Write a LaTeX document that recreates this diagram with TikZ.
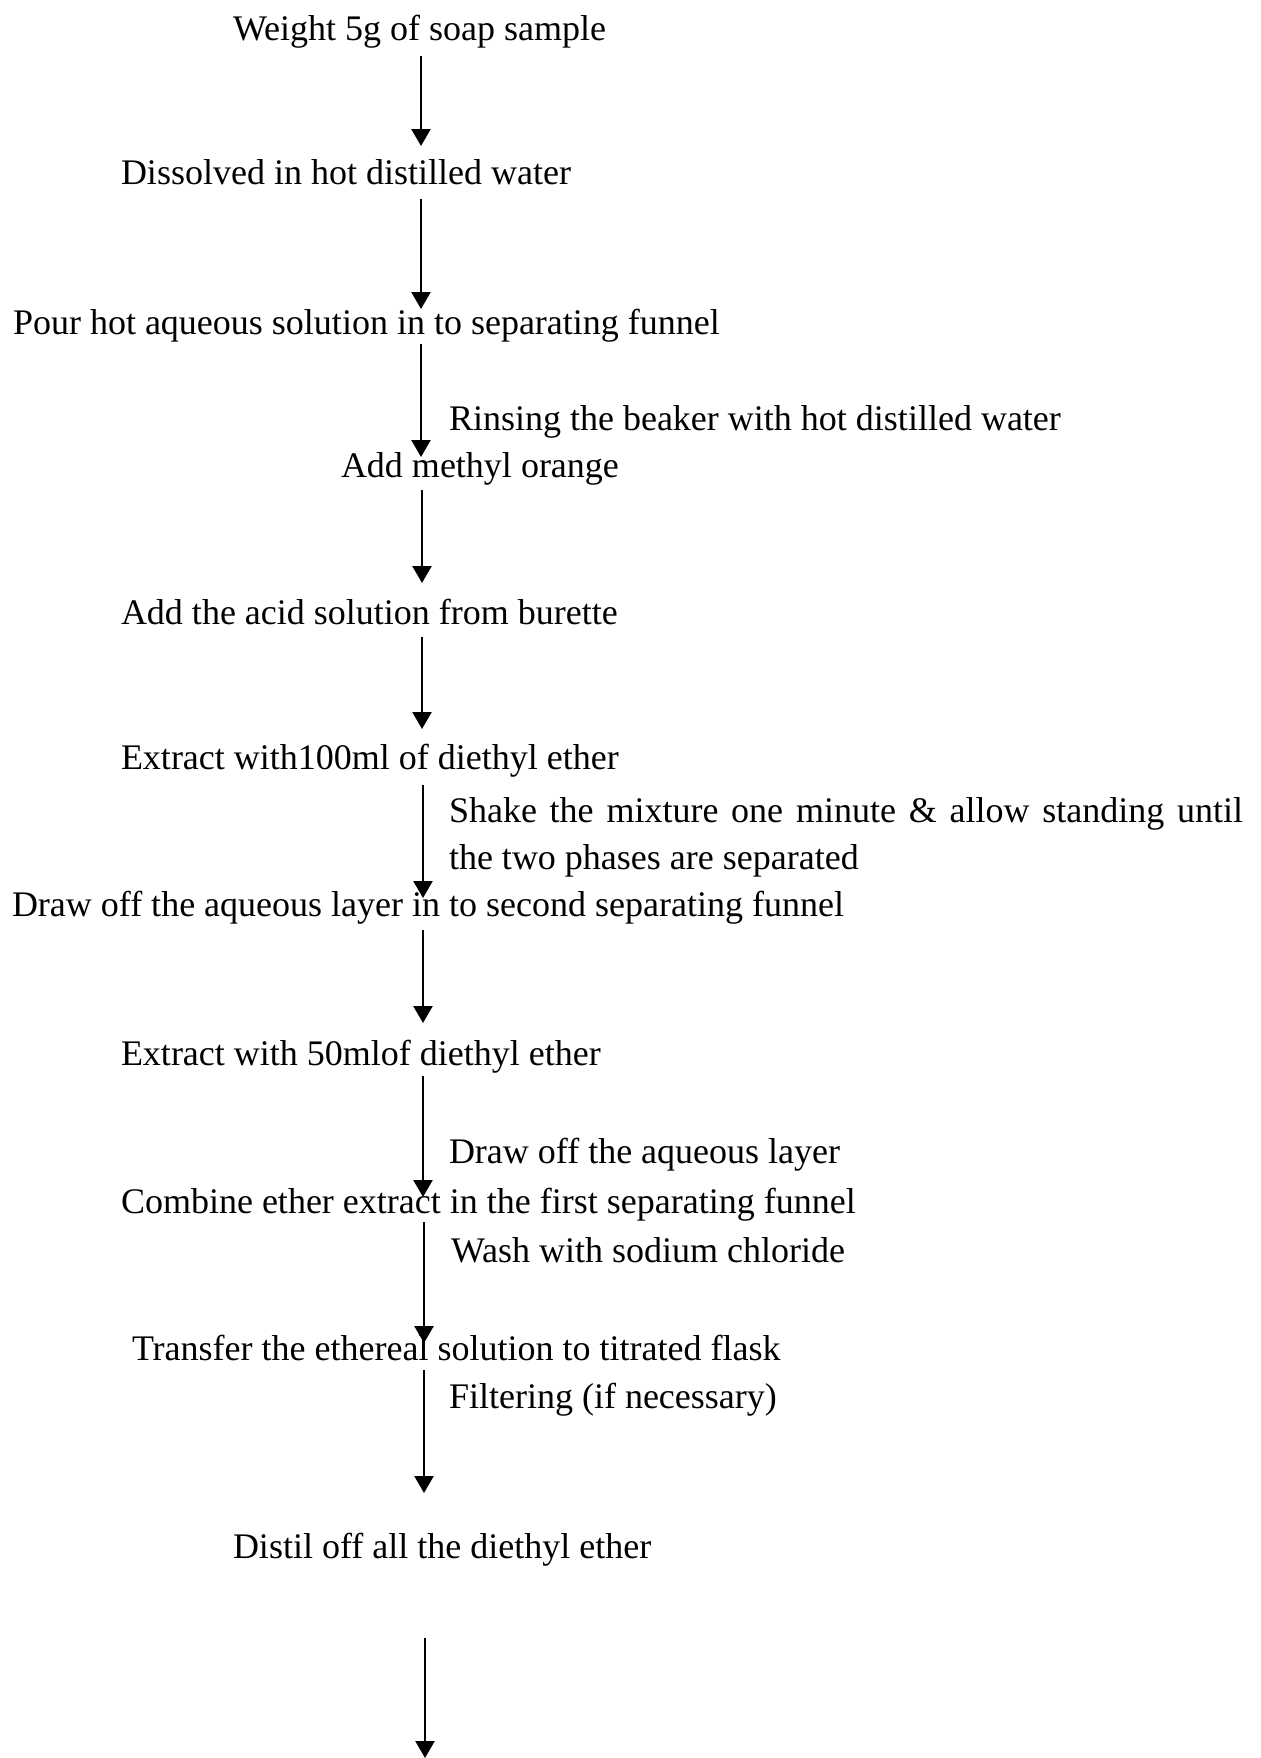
\documentclass[tikz,border=0pt]{standalone}
\usepackage{fontspec}
\setmainfont{Liberation Serif}
\usetikzlibrary{arrows.meta}
\tikzset{
  txt/.style={anchor=base west, inner sep=0pt, outer sep=0pt, font=\fontsize{18}{21}\selectfont},
  flow/.style={line width=1.2pt, -{Triangle[width=9.5pt,length=8.5pt]}}
}
\begin{document}
\begin{tikzpicture}[x=0.5pt,y=-0.5pt]
\useasboundingbox (0,0) rectangle (1260,1758);
% main steps
\node[txt] (t1) at (233,40) {Weight 5g of soap sample};
\node[txt] (t2) at (121,184) {Dissolved in hot distilled water};
\node[txt] (t3) at (13,334) {Pour hot aqueous solution in to separating funnel};
\node[txt] (s1) at (449,430) {Rinsing the beaker with hot distilled water};
\node[txt] (t4) at (341,477) {Add methyl orange};
\node[txt] (t5) at (121,624) {Add the acid solution from burette};
\node[txt] (t6) at (121,769) {Extract with100ml of diethyl ether};
\node[txt] (s2) at (449,822) {\makebox[397pt][s]{Shake the mixture one minute \& allow standing until}};
\node[txt] (s3) at (449,869) {the two phases are separated};
\node[txt] (t7) at (12,916) {Draw off the aqueous layer in to second separating funnel};
\node[txt] (t8) at (121,1065) {Extract with 50mlof diethyl ether};
\node[txt] (s4) at (449,1163) {Draw off the aqueous layer};
\node[txt] (t9) at (121,1213) {Combine ether extract in the first separating funnel};
\node[txt] (s5) at (451,1262) {Wash with sodium chloride};
\node[txt] (t10) at (132,1360) {Transfer the ethereal solution to titrated flask};
\node[txt] (s6) at (449,1408) {Filtering (if necessary)};
\node[txt] (t11) at (233,1558) {Distil off all the diethyl ether};
% arrow end points
\coordinate (a1s) at (421,56);   \coordinate (a1e) at (421,146);
\coordinate (a2s) at (421,199);  \coordinate (a2e) at (421,309);
\coordinate (a3s) at (421,344);  \coordinate (a3e) at (421,457);
\coordinate (a4s) at (422,490);  \coordinate (a4e) at (422,583);
\coordinate (a5s) at (422,637);  \coordinate (a5e) at (422,729);
\coordinate (a6s) at (423,785);  \coordinate (a6e) at (423,898);
\coordinate (a7s) at (423,930);  \coordinate (a7e) at (423,1023);
\coordinate (a8s) at (423,1076); \coordinate (a8e) at (423,1197);
\coordinate (a9s) at (424,1222); \coordinate (a9e) at (424,1343);
\coordinate (a10s) at (424,1370); \coordinate (a10e) at (424,1493);
\coordinate (a11s) at (425,1638); \coordinate (a11e) at (425,1758);
\foreach \i in {1,...,11} \draw[flow] (a\i s) -- (a\i e);
\end{tikzpicture}
\end{document}
